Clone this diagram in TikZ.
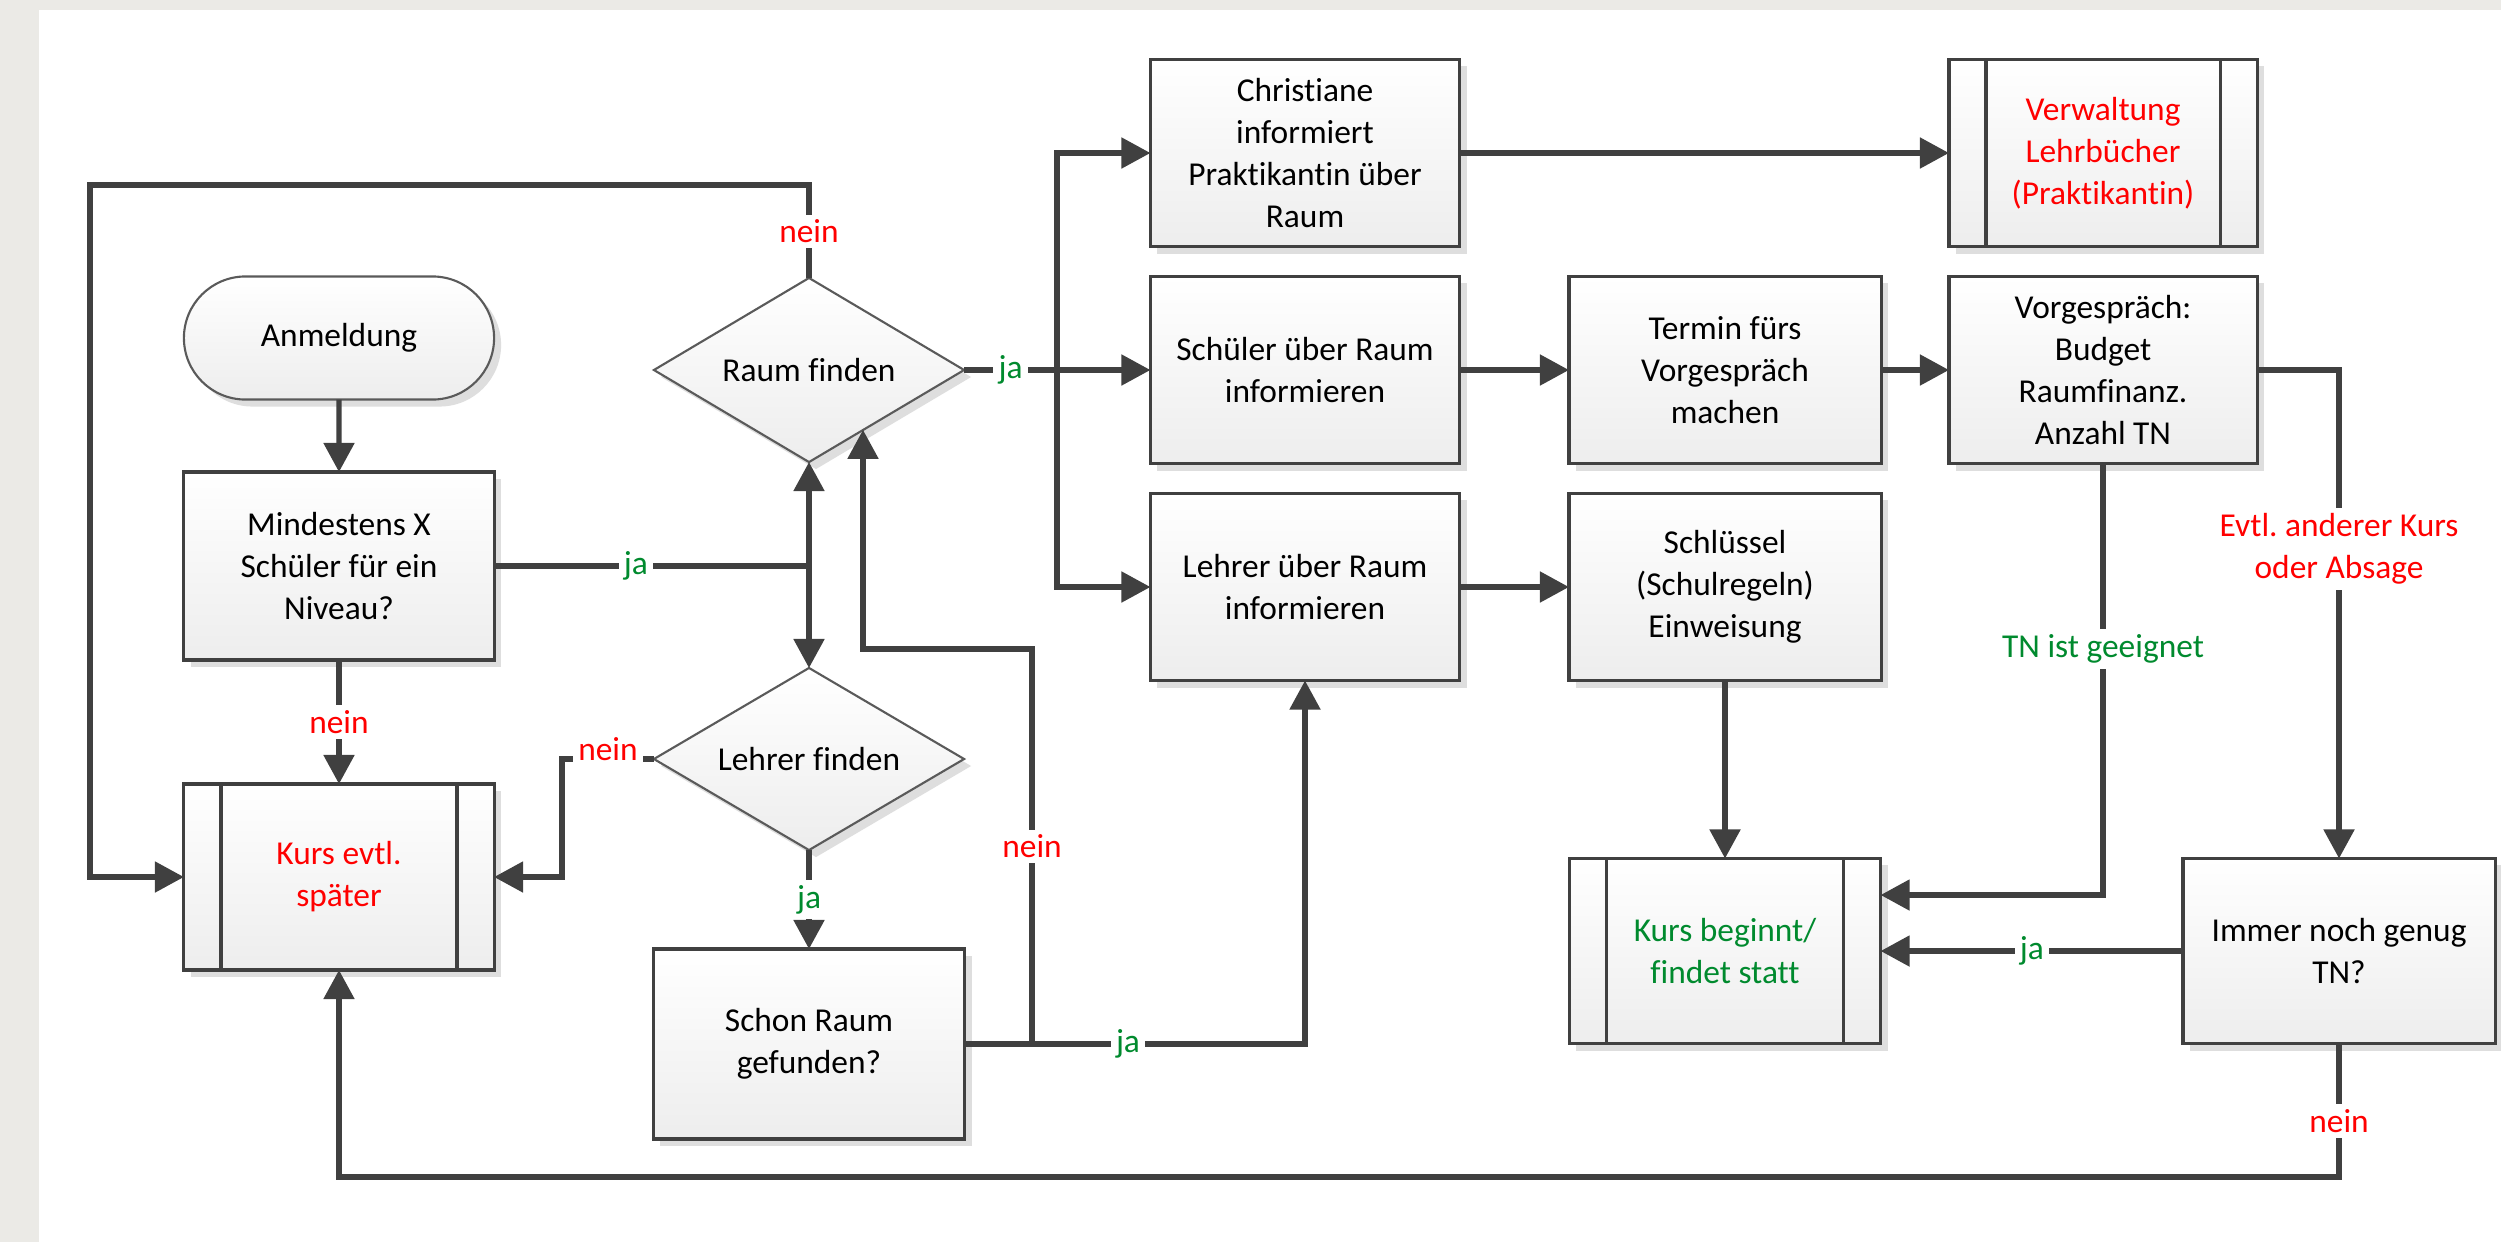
\documentclass[tikz,border=0pt]{standalone}
\usepackage{fontspec}
\setmainfont{Carlito}[Ligatures=NoCommon]
\frenchspacing
\usetikzlibrary{shapes.geometric,shapes.misc,arrows.meta,shadows,calc}
\definecolor{linec}{HTML}{404040}
\definecolor{edgec}{HTML}{5A5A5A}
\definecolor{bggray}{HTML}{EBEAE6}
\definecolor{neinred}{HTML}{FF0000}
\definecolor{jagreen}{HTML}{008A2E}
\tikzset{
  shade/.style={top color=white, bottom color=black!7,
    drop shadow={shadow xshift=0.07cm, shadow yshift=-0.07cm, fill=black!13, opacity=1}},
  box/.style={rectangle, draw=linec, line width=0.9pt, shade, inner sep=0pt, outer sep=0pt,
    align=center, minimum width=3.1cm, minimum height=1.87cm},
  predef/.style={box},
  decision/.style={diamond, aspect=1.7, draw=edgec, line width=0.6pt, shade, inner sep=0pt,
    outer sep=0pt, align=center, minimum width=3.1cm, minimum height=1.84cm},
  terminal/.style={rounded rectangle, draw=edgec, line width=0.6pt, shade, inner sep=0pt,
    outer sep=0pt, align=center, minimum width=3.1cm, minimum height=1.23cm},
  line/.style={draw=linec, line width=1.45pt},
  arr/.style={line, -{Triangle[width=0.3cm,length=0.29cm]}},
  barline/.style={draw=linec, line width=0.9pt},
  nlbl/.style={fill=white, inner sep=1.5pt, text=neinred},
  jlbl/.style={fill=white, inner sep=1.5pt, text=jagreen},
}
\begin{document}
\begin{tikzpicture}[x=0.01cm, y=-0.01cm, font=\fontsize{9.5}{11.95}\selectfont]
\useasboundingbox (0,0) rectangle (2501,1242);
\fill[bggray] (0,0) rectangle (2501,1242);
\fill[white] (39,10) rectangle (2501,1242);

% nodes
\node[terminal] (anm) at (339,338) {Anmeldung};
\node[box, minimum height=1.88cm] (mind) at (339,566) {Mindestens X\\Schüler für ein\\Niveau?};
\node[predef, minimum height=1.86cm, text=neinred] (kurs) at (339,877) {Kurs evtl.\\später};
\node[decision] (raum) at (809,370) {Raum finden};
\node[decision, minimum height=1.82cm] (lehrer) at (809,759) {Lehrer finden};
\node[box, minimum width=3.11cm, minimum height=1.9cm] (schon) at (809,1044) {Schon Raum\\gefunden?};
\node[box, minimum width=3.09cm] (chr) at (1305,153) {Christiane\\informiert\\Praktikantin über\\Raum};
\node[box, minimum width=3.09cm] (schu) at (1305,370) {Schüler über Raum\\informieren};
\node[box, minimum width=3.09cm] (lub) at (1305,587) {Lehrer über Raum\\informieren};
\node[box, minimum width=3.12cm] (term) at (1725,370) {Termin fürs\\Vorgespräch\\machen};
\node[box, minimum width=3.12cm] (schl) at (1725,587) {Schlüssel\\(Schulregeln)\\Einweisung};
\node[predef, minimum width=3.08cm, text=neinred] (verw) at (2103,153) {Verwaltung\\Lehrbücher\\(Praktikantin)};
\node[box, minimum width=3.08cm] (vorg) at (2103,370) {Vorgespräch:\\Budget\\Raumfinanz.\\Anzahl TN};
\node[predef, minimum width=3.11cm, minimum height=1.85cm, text=jagreen] (kbeg) at (1725,951) {Kurs beginnt/\\findet statt};
\node[box, minimum width=3.12cm, minimum height=1.85cm] (immer) at (2339,951) {Immer noch genug\\TN?};

% side bars of predefined-process boxes
\foreach \n in {kurs,verw,kbeg}{
  \draw[barline] ([xshift=0.37cm]\n.north west) -- ([xshift=0.37cm]\n.south west);
  \draw[barline] ([xshift=-0.37cm]\n.north east) -- ([xshift=-0.37cm]\n.south east);
}

% helper coordinates
\coordinate (j1) at (809,566);
\coordinate (c1) at (90,185);
\coordinate (c2) at (562,759);
\coordinate (j2) at (1032,1044);
\coordinate (c3) at (863,649);
\coordinate (rse) at ($(raum.south)!0.35!(raum.east)$);
\coordinate (j3) at (1057,370);
\coordinate (k2) at ($(kbeg.east)+(0,-56)$);
\coordinate (c4) at (339,1177);

% connectors
\draw[arr] (anm) -- (mind);
\draw[line] (mind.east) -- node[jlbl, pos=0.45]{ja} (j1);
\draw[arr] (j1) -- (raum.south);
\draw[arr] (j1) -- (lehrer.north);
\draw[arr] (raum.north) -- node[nlbl]{nein} (raum.north |- c1) -- (c1) |- (kurs.west);
\draw[arr] (mind.south) -- node[nlbl]{nein} (kurs.north);
\draw[arr] (lehrer.west) -- node[nlbl, yshift=0.1cm]{nein} (c2) |- (kurs.east);
\draw[arr] (lehrer.south) -- node[jlbl]{ja} (schon.north);
\draw[arr] (schon.east) -- node[jlbl, pos=0.48]{ja} (lub.south |- schon.east) -- (lub.south);
\draw[arr] (j2) -- node[nlbl]{nein} (j2 |- c3) -- (c3) -- (c3 |- rse);
\draw[line] (raum.east) -- node[jlbl]{ja} (j3);
\draw[arr] (j3) |- (chr.west);
\draw[arr] (j3) -- (schu.west);
\draw[arr] (j3) |- (lub.west);
\draw[arr] (chr) -- (verw);
\draw[arr] (schu) -- (term);
\draw[arr] (term) -- (vorg);
\draw[arr] (lub) -- (schl);
\draw[arr] (schl) -- (kbeg);
\draw[arr] (vorg.south) -- node[jlbl, pos=0.43]{TN ist geeignet} (vorg.south |- k2) -- (k2);
\draw[arr] (vorg.east) -| node[nlbl, pos=0.683, align=center]{Evtl. anderer Kurs\\oder Absage} (immer.north);
\draw[arr] (immer.west) -- node[jlbl]{ja} (kbeg.east);
\draw[arr] (immer.south) -- node[nlbl, pos=0.58]{nein} (immer.south |- c4) -| (kurs.south);
\end{tikzpicture}
\end{document}
